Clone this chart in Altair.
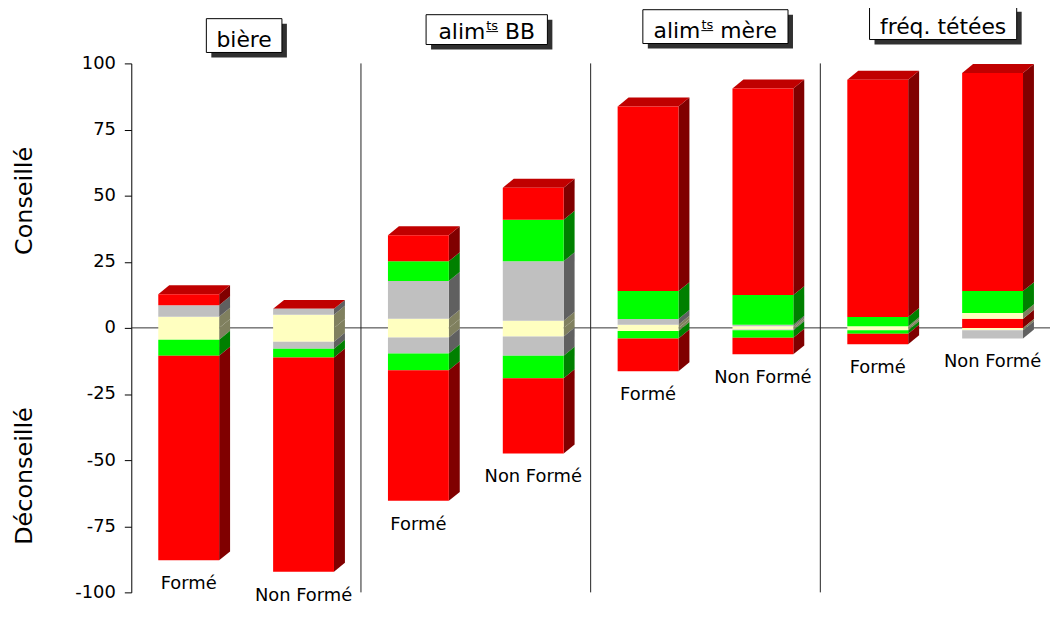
import altair as alt
import pandas as pd

# ---------------- data ----------------
panel_main = ["bière", "alim", "alim", "fréq. tétées"]
panel_sup = ["", "ts", "ts", ""]
panel_tail = ["", "BB", "mère", ""]
groups = ["Formé", "Non Formé"]
axis_titles = ["Conseillé", "Déconseillé"]

# one value per bar, in order:
# bière F, bière NF, alimBB F, alimBB NF, alimMère F, alimMère NF, fréq F, fréq NF
pos_red_low = [0.0, 0.0, 0.0, 0.0, 0.0, 0.0, 0.0, 3.5]
pos_yellow = [4.2, 5.0, 3.5, 2.7, 1.2, 0.6, 0.6, 2.1]
pos_gray = [4.4, 2.2, 14.2, 22.5, 2.2, 0.6, 0.0, 0.0]
pos_green = [0.0, 0.0, 7.5, 15.7, 10.5, 11.2, 3.5, 8.3]
pos_red = [4.1, 0.0, 9.8, 12.1, 69.8, 78.1, 89.7, 82.5]
neg_yellow = [4.5, 5.2, 3.6, 3.25, 1.2, 0.6, 0.9, 0.9]
neg_gray = [0.0, 2.65, 6.1, 7.25, 0.0, 0.3, 0.0, 3.1]
neg_green = [6.0, 3.35, 6.3, 8.5, 2.8, 2.8, 1.3, 0.0]
neg_red = [77.4, 81.0, 49.4, 28.5, 12.4, 6.3, 4.0, 0.0]
y_ticks = [-100, -75, -50, -25, 0, 25, 50, 75, 100]

# ---------------- style ----------------
FONT = "DejaVu Sans"
FRONT = {"red": "#FF0000", "yellow": "#FFFFC0", "gray": "#C0C0C0", "green": "#00FF00"}
SIDE = {"red": "#800000", "yellow": "#80805F", "gray": "#606060", "green": "#008000"}
TOP_COLOR = "#C00000"

W, H = 924, 532
X_DOMAIN = [0, 8]
Y_DOMAIN = [-100, 100]
px_x = W / (X_DOMAIN[1] - X_DOMAIN[0])
px_y = H / (Y_DOMAIN[1] - Y_DOMAIN[0])
DEPTH_DX = 11 / px_x
DEPTH_DY = 9 / px_y
BAR_L, BAR_R = 0.235, 0.765

series = [
    ("pos_red_low", "red", 1, pos_red_low),
    ("pos_yellow", "yellow", 1, pos_yellow),
    ("pos_gray", "gray", 1, pos_gray),
    ("pos_green", "green", 1, pos_green),
    ("pos_red", "red", 1, pos_red),
    ("neg_yellow", "yellow", -1, neg_yellow),
    ("neg_gray", "gray", -1, neg_gray),
    ("neg_green", "green", -1, neg_green),
    ("neg_red", "red", -1, neg_red),
]

front_rows, side_rows, top_rows, label_rows = [], [], [], []
n_bars = len(pos_red)
for b in range(n_bars):
    xl, xr = b + BAR_L, b + BAR_R
    cp, cn = 0.0, 0.0
    for name, col, sign, vals in series:
        v = vals[b]
        if v <= 0:
            continue
        if sign > 0:
            lo, hi = cp, cp + v
            cp = hi
        else:
            hi, lo = -cn, -(cn + v)
            cn += v
        seg = f"{b}_{name}"
        front_rows.append({"x": xl, "x2": xr, "y": lo, "y2": hi, "fill": FRONT[col]})
        side_rows.append({"seg": seg, "x": xr, "ylo": lo, "yhi": hi, "fill": SIDE[col]})
        side_rows.append({"seg": seg, "x": xr + DEPTH_DX, "ylo": lo + DEPTH_DY,
                          "yhi": hi + DEPTH_DY, "fill": SIDE[col]})
    top_rows.append({"bar": b, "y": cp, "xl": xl, "xr": xr})
    top_rows.append({"bar": b, "y": cp + DEPTH_DY, "xl": xl + DEPTH_DX, "xr": xr + DEPTH_DX})
    label_rows.append({"x": b + 0.5, "y": -cn, "label": groups[b % 2]})

df_front = pd.DataFrame(front_rows)
df_side = pd.DataFrame(side_rows)
df_top = pd.DataFrame(top_rows)
df_lab = pd.DataFrame(label_rows)
df_sep = pd.DataFrame({"x": [2, 4, 6], "ylo": [-100] * 3, "yhi": [100] * 3})
df_zero = pd.DataFrame({"x": [X_DOMAIN[0]], "x2": [X_DOMAIN[1]], "y": [0]})
df_yt = pd.DataFrame({"label": axis_titles, "y": [48, -56]})

xs = alt.Scale(domain=X_DOMAIN, nice=False, zero=False)
ys = alt.Scale(domain=Y_DOMAIN, nice=False, zero=False)
yaxis = alt.Axis(values=y_ticks, title=None, grid=False, labelExpr="'' + datum.value")
XN = lambda f: alt.X(f, scale=xs, axis=None)
YA = lambda f: alt.Y(f, scale=ys, axis=yaxis)

zero_line = alt.Chart(df_zero).mark_rule(color="#333333", strokeWidth=1).encode(
    x=XN("x:Q"), x2="x2:Q", y=YA("y:Q"))
seps = alt.Chart(df_sep).mark_rule(color="#222222", strokeWidth=1).encode(
    x=XN("x:Q"), y=YA("ylo:Q"), y2="yhi:Q")

side = alt.Chart(df_side).mark_area().encode(
    x=XN("x:Q"),
    y=alt.Y("yhi:Q", scale=ys, stack=None, axis=yaxis),
    y2="ylo:Q",
    color=alt.Color("fill:N", scale=None),
    detail="seg:N")

top = alt.Chart(df_top).mark_area(orient="horizontal", color=TOP_COLOR).encode(
    y=alt.Y("y:Q", scale=ys, stack=None, axis=yaxis),
    x=alt.X("xl:Q", scale=xs, stack=None, axis=None),
    x2="xr:Q",
    detail="bar:N")

front = alt.Chart(df_front).mark_rect().encode(
    x=XN("x:Q"), x2="x2:Q", y=YA("y:Q"), y2="y2:Q",
    color=alt.Color("fill:N", scale=None))

labels = alt.Chart(df_lab).mark_text(font=FONT, fontSize=18, dy=24, baseline="middle",
                                     align="center", color="black").encode(
    x=XN("x:Q"), y=YA("y:Q"), text="label:N")

ytitles = alt.Chart(df_yt).mark_text(
    angle=270, font=FONT, fontSize=24, color="black",
    align="center", baseline="middle").encode(
    x=alt.value(-107), y=YA("y:Q"), text="label:N")

# header boxes: (dx px, box top px, box bottom px, box width px) relative to plot
hdr_layout = [(-2, -45, -11, 76), (11, -49, -19, 122), (10, -54, -20, 146), (8, -57, -24, 148)]
hdr_size, sup_size = 22, 13
char_w = {"alim": 2.143, "ts": 0.913, "BB": 1.372, "mère": 2.615, " ": 0.318}
headers = []
for k in range(len(panel_main)):
    dx, t, bt, w = hdr_layout[k]
    d = pd.DataFrame({"c": [2 * k + 1]})
    shadow = alt.Chart(d).mark_rect(color="#303030", xOffset=dx - w / 2 + 5,
                                    x2Offset=dx + w / 2 + 5).encode(
        x=XN("c:Q"), x2="c:Q", y=alt.value(t + 5), y2=alt.value(bt + 5))
    box = alt.Chart(d).mark_rect(fill="white", stroke="black", strokeWidth=1,
                                 xOffset=dx - w / 2, x2Offset=dx + w / 2).encode(
        x=XN("c:Q"), x2="c:Q", y=alt.value(t), y2=alt.value(bt))
    headers += [shadow, box]
    base_y = bt - 6
    if panel_sup[k]:
        w1 = char_w[panel_main[k]] * hdr_size
        w2 = char_w[panel_sup[k]] * sup_size
        ws = char_w[" "] * hdr_size
        w3 = char_w[panel_tail[k]] * hdr_size
        tot = w1 + 1 + w2 + ws + w3
        x0 = dx - tot / 2
        headers.append(alt.Chart(d).mark_text(
            text=panel_main[k], font=FONT, fontSize=hdr_size, align="left",
            baseline="alphabetic", dx=x0, color="black").encode(
            x=XN("c:Q"), y=alt.value(base_y)))
        headers.append(alt.Chart(d).mark_text(
            text=panel_sup[k], font=FONT, fontSize=sup_size, align="left",
            baseline="alphabetic", dx=x0 + w1 + 1, color="black").encode(
            x=XN("c:Q"), y=alt.value(base_y - 9)))
        headers.append(alt.Chart(d).mark_rule(
            color="black", strokeWidth=1, xOffset=x0 + w1 + 1,
            x2Offset=x0 + w1 + 1 + w2).encode(
            x=XN("c:Q"), x2="c:Q", y=alt.value(base_y - 7)))
        headers.append(alt.Chart(d).mark_text(
            text=panel_tail[k], font=FONT, fontSize=hdr_size, align="left",
            baseline="alphabetic", dx=x0 + w1 + 1 + w2 + ws, color="black").encode(
            x=XN("c:Q"), y=alt.value(base_y)))
    else:
        headers.append(alt.Chart(d).mark_text(
            text=panel_main[k], font=FONT, fontSize=hdr_size, align="center",
            baseline="alphabetic", dx=dx, color="black").encode(
            x=XN("c:Q"), y=alt.value(base_y)))

chart = alt.layer(zero_line, seps, side, top, front, labels, ytitles, *headers).properties(
    width=W, height=H,
    padding={"left": 124, "top": 54, "right": 0, "bottom": 14},
    autosize=alt.AutoSizeParams(type="none"),
    background="white",
).configure_view(stroke=None).configure_axisY(
    labelFont=FONT, labelFontSize=18, labelColor="black", labelPadding=9,
    tickColor="black", tickSize=7, domainColor="black", domainWidth=1, tickWidth=1,
    grid=False,
)

chart.save("out.html", embed_options={"renderer": "svg", "actions": False})
